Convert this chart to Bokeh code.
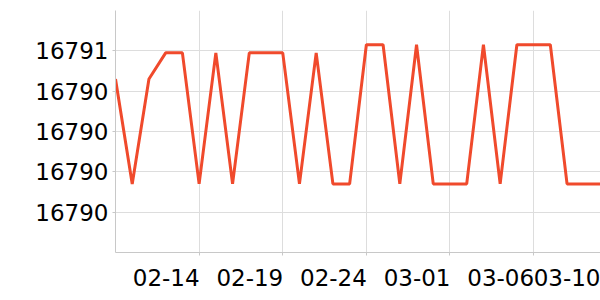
import datetime as dt
from bokeh.plotting import figure
from bokeh.models import FixedTicker, NumeralTickFormatter, CustomJSTickFormatter, Range1d, ColumnDataSource
from bokeh.embed import file_html
from bokeh.resources import INLINE

dates = ["2025-02-09", "2025-02-10", "2025-02-11", "2025-02-12", "2025-02-13",
         "2025-02-14", "2025-02-15", "2025-02-16", "2025-02-17", "2025-02-18",
         "2025-02-19", "2025-02-20", "2025-02-21", "2025-02-22", "2025-02-23",
         "2025-02-24", "2025-02-25", "2025-02-26", "2025-02-27", "2025-02-28",
         "2025-03-01", "2025-03-02", "2025-03-03", "2025-03-04", "2025-03-05",
         "2025-03-06", "2025-03-07", "2025-03-08", "2025-03-09", "2025-03-10"]
values = [16790.46, 16789.94, 16790.46, 16790.59, 16790.59,
          16789.94, 16790.59, 16789.94, 16790.59, 16790.59,
          16790.59, 16789.94, 16790.59, 16789.94, 16789.94,
          16790.63, 16790.63, 16789.94, 16790.63, 16789.94,
          16789.94, 16789.94, 16790.63, 16789.94, 16790.63,
          16790.63, 16790.63, 16789.94, 16789.94, 16789.94]
x_tick_dates = ["2025-02-14", "2025-02-19", "2025-02-24", "2025-03-01", "2025-03-06", "2025-03-10"]
y_ticks = [16789.8, 16790.0, 16790.2, 16790.4, 16790.6]

def to_dt(s):
    return dt.datetime.strptime(s, "%Y-%m-%d")

def to_ms(s):
    return (to_dt(s) - dt.datetime(1970, 1, 1)).total_seconds() * 1000

xs = [to_dt(d) for d in dates]
src = ColumnDataSource(dict(x=xs, y=values))

p = figure(width=600, height=300, x_axis_type="datetime", output_backend="svg",
           toolbar_location=None, min_border_left=115, min_border_right=0,
           min_border_top=10, min_border_bottom=48)
p.x_range = Range1d(to_dt(dates[0]), to_dt(dates[-1]))
p.y_range = Range1d(16789.6, 16790.8)
p.outline_line_color = None

p.line("x", "y", source=src, line_color="#f04a2c", line_width=3)

p.xaxis.ticker = FixedTicker(ticks=[to_ms(d) for d in x_tick_dates])
# labels sit to the left of their tick (right-aligned), as in the reference
p.xaxis.formatter = CustomJSTickFormatter(code="""
const d = new Date(tick);
const m = String(d.getUTCMonth() + 1).padStart(2, '0');
const dd = String(d.getUTCDate()).padStart(2, '0');
const s = m + '-' + dd;
if (index == ticks.length - 1) { return s; }
return s + '\\u2007\\u2007\\u2007\\u2007\\u2008';
""")
p.yaxis.ticker = FixedTicker(ticks=y_ticks)
p.yaxis.formatter = NumeralTickFormatter(format="0")

for ax in (p.xaxis[0], p.yaxis[0]):
    ax.axis_line_color = "#c8c8c8"
    ax.major_tick_line_color = "#c8c8c8"
    ax.major_tick_out = 3
    ax.major_tick_in = 0
    ax.minor_tick_line_color = None
    ax.major_label_text_font = "DejaVu Sans"
    ax.major_label_text_font_size = "23px"
    ax.major_label_text_color = "#000000"

p.xaxis.major_label_standoff = 9
p.yaxis.major_label_standoff = 4

p.xgrid.grid_line_color = "#dddddd"
p.ygrid.grid_line_color = "#dddddd"

open("out.html", "w").write(file_html(p, INLINE))
